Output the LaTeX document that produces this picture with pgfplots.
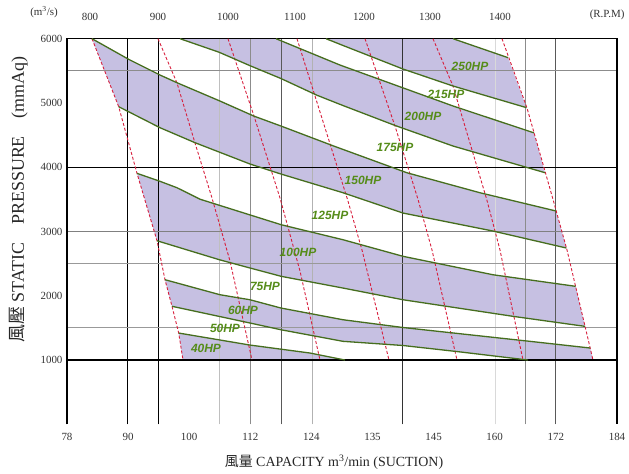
\documentclass[border=0pt]{standalone}
\usepackage{fontspec}
\setmainfont{Liberation Serif}
\newfontfamily\cjk{Noto Sans CJK TC}
\newfontfamily\lsans{Liberation Sans}
\usepackage{pgfplots}
\pgfplotsset{compat=1.18}
\definecolor{band}{RGB}{198,192,226}
\definecolor{hpline}{RGB}{70,110,30}
\definecolor{hptext}{RGB}{85,140,25}
\definecolor{rpm}{RGB}{215,30,60}
\begin{document}
\begin{tikzpicture}
\begin{axis}[
  scale only axis, width=550bp, height=385.6bp,
  xmin=67, xmax=617, ymin=0, ymax=6000,
  axis line style={draw=none},
  major tick length=0pt,
  clip=false,
  xtick={67,128.1,189.2,250.3,311.4,372.5,433.6,494.7,555.8,617},
  xticklabels={78,90,100,112,124,135,145,160,172,184},
  ytick={1000,2000,3000,4000,5000,6000},
  yticklabels={1000,2000,3000,4000,5000,6000},
  tick label style={font=\fontsize{11}{12}\selectfont, text=black!80},
  xticklabel style={yshift=-5bp},
  yticklabel style={xshift=-1bp},
  hpl/.style={hpline, line width=1.3bp},
  rpml/.style={rpm, line width=0.9bp, dash pattern=on 3bp off 2bp},
]
% ---- HP bands (purple)
\addplot[fill=band, draw=none] coordinates {(453,6000)(508,5705)(526.5,4927)(453,5264)(403,5528)(340,5913)(326,6000)} -- cycle;
\addplot[fill=band, draw=none] coordinates {(276,6000)(340,5590)(453,4953)(534,4535)(545,3915)(453,4330)(395,4650)(343,4960)(317,5120)(281,5380)(250,5580)(219,5790)(180,6000)} -- cycle;
\addplot[fill=band, draw=none] coordinates {(92,6000)(128.7,5679)(160,5435)(177,5315)(220,5030)(253.7,4797)(281,4641)(333.7,4330)(406.7,3915)(480,3603)(556,3319)(566.4,2743)(493,3007)(403,3287)(343,3603)(281,3894)(250,4050)(195,4382)(160,4615)(118.7,4942)} -- cycle;
\addplot[fill=band, draw=none] coordinates {(137,3905)(159.3,3785)(177,3681)(200.3,3501)(281.3,3105)(343,2872)(403,2614)(493,2327)(575.6,2147)(585,1524)(513,1680)(403,1938)(343,2120)(281.3,2302)(250,2432)(219.3,2561)(157,2856)} -- cycle;
\addplot[fill=band, draw=none] coordinates {(165,2250)(220,2016)(250,1938)(281,1809)(343,1627)(403,1506)(527,1296)(590.2,1187)(593,1000)(528,1000)(457,1132)(403,1226)(343,1291)(281,1471)(250,1576)(172,1836)} -- cycle;
\addplot[fill=band, draw=none] coordinates {(178.7,1420)(250,1233)(310,1109)(345,1000)(183,1000)} -- cycle;
% ---- grid
\addplot[black!25, line width=0.8bp] coordinates {(219,0)(219,6000)};
\addplot[black!45, line width=0.9bp] coordinates {(250,0)(250,6000)};
\addplot[black!65, line width=0.9bp] coordinates {(281,0)(281,6000)};
\addplot[black!30, line width=0.8bp] coordinates {(312,0)(312,6000)};
\addplot[black!80, line width=1bp] coordinates {(403,0)(403,6000)};
\addplot[black!15, line width=0.8bp] coordinates {(495,0)(495,6000)};
\addplot[black!45, line width=0.9bp] coordinates {(525,0)(525,6000)};
\addplot[black!65, line width=1bp] coordinates {(556,0)(556,6000)};
\addplot[black, line width=1bp] coordinates {(128,0)(128,6000)};
\addplot[black, line width=1bp] coordinates {(159,0)(159,6000)};
\addplot[black!45, line width=0.9bp] coordinates {(67,5500)(617,5500)};
\addplot[black!50, line width=0.9bp] coordinates {(67,3000)(617,3000)};
\addplot[black!40, line width=0.9bp] coordinates {(67,2500)(617,2500)};
\addplot[black!40, line width=0.9bp] coordinates {(67,1500)(617,1500)};
\addplot[black, line width=1.2bp] coordinates {(67,4000)(617,4000)};
\addplot[black, line width=1.5bp] coordinates {(67,1000)(617,1000)};
\addplot[black, line width=1.2bp] coordinates {(67,0)(67,6000)(617,6000)(617,0)};
% ---- RPM lines
\addplot[rpml] coordinates {(92,6000)(118.7,4942)(137,3905)(157,2856)(165,2250)(172,1836)(178.7,1420)(183,1000)};
\addplot[rpml] coordinates {(158,6000)(177,5311)(195,4377)(212,3521)(230,2541)(252,1000)};
\addplot[rpml] coordinates {(228,6000)(254,4797)(280,3521)(300,2385)(320,1000)};
\addplot[rpml] coordinates {(297,6000)(315,5108)(348,3474)(362,2712)(389,1000)};
\addplot[rpml] coordinates {(365,6000)(395,4641)(418,3501)(432,2712)(457,1000)};
\addplot[rpml] coordinates {(433,6000)(453,5264)(486.7,3501)(500,2712)(523,1000)};
\addplot[rpml] coordinates {(502,6000)(527,4922)(553,3501)(567,2712)(593,1000)};
% ---- HP lines
\addplot[hpl] coordinates {(453,6000)(508,5705)};
\addplot[hpl] coordinates {(326,6000)(340,5913)(403,5528)(453,5264)(526.5,4927)};
\addplot[hpl] coordinates {(276,6000)(340,5590)(453,4953)(534,4535)};
\addplot[hpl] coordinates {(180,6000)(219,5790)(250,5580)(281,5380)(317,5120)(343,4960)(395,4650)(453,4330)(545,3915)};
\addplot[hpl] coordinates {(92,6000)(128.7,5679)(160,5435)(177,5315)(220,5030)(253.7,4797)(281,4641)(333.7,4330)(406.7,3915)(480,3603)(556,3319)};
\addplot[hpl] coordinates {(118.7,4942)(160,4615)(195,4382)(250,4050)(281,3894)(343,3603)(403,3287)(493,3007)(566.4,2743)};
\addplot[hpl] coordinates {(137,3905)(159.3,3785)(177,3681)(200.3,3501)(281.3,3105)(343,2872)(403,2614)(493,2327)(575.6,2147)};
\addplot[hpl] coordinates {(157,2856)(219.3,2561)(250,2432)(281.3,2302)(343,2120)(403,1938)(513,1680)(585,1524)};
\addplot[hpl] coordinates {(165,2250)(220,2016)(250,1938)(281,1809)(343,1627)(403,1506)(527,1296)(590.2,1187)};
\addplot[hpl] coordinates {(172,1836)(250,1576)(281,1471)(343,1291)(403,1226)(457,1132)(528,1000)};
\addplot[hpl] coordinates {(178.7,1420)(250,1233)(310,1109)(345,1000)};
% ---- HP labels
\begin{scope}[every node/.style={font=\lsans\bfseries\itshape\fontsize{12}{13}\selectfont, text=hptext, inner sep=0pt}]
\node at (axis cs:470,5575) {250HP};
\node at (axis cs:446,5139) {215HP};
\node at (axis cs:423,4797) {200HP};
\node at (axis cs:395,4315) {175HP};
\node at (axis cs:363,3801) {150HP};
\node at (axis cs:330,3256) {125HP};
\node at (axis cs:298,2681) {100HP};
\node at (axis cs:265,2152) {75HP};
\node at (axis cs:243,1778) {60HP};
\node at (axis cs:225,1498) {50HP};
\node at (axis cs:206,1187) {40HP};
\end{scope}
% ---- RPM labels (top)
\begin{scope}[every node/.style={font=\fontsize{11}{12}\selectfont, text=black!80, anchor=base}]
\node at (axis cs:90,6000) [yshift=18bp] {800};
\node at (axis cs:158,6000) [yshift=18bp] {900};
\node at (axis cs:228,6000) [yshift=18bp] {1000};
\node at (axis cs:295,6000) [yshift=18bp] {1100};
\node at (axis cs:364,6000) [yshift=18bp] {1200};
\node at (axis cs:430,6000) [yshift=18bp] {1300};
\node at (axis cs:500,6000) [yshift=18bp] {1400};
\node[anchor=base east] at (axis cs:628,6000) [yshift=21bp] {(R.P.M)};
\node at (axis cs:44,6000) [yshift=23bp] {(m\textsuperscript{3}/s)};
\end{scope}
\node[anchor=base, font=\fontsize{14}{16}\selectfont, text=black!85] at (axis cs:334,0) [yshift=-42bp] {{\cjk 風量} CAPACITY m\textsuperscript{3}/min (SUCTION)};
\node[rotate=90, anchor=base, font=\fontsize{18}{20}\selectfont, text=black!85] at ([xshift=-43bp]axis cs:67,3500) {{\cjk 風壓} STATIC\quad PRESSURE\quad (mmAq)};
\end{axis}
\pgfresetboundingbox
\path (-67bp,-49.7bp) rectangle (562bp,424.3bp);
\end{tikzpicture}
\end{document}
